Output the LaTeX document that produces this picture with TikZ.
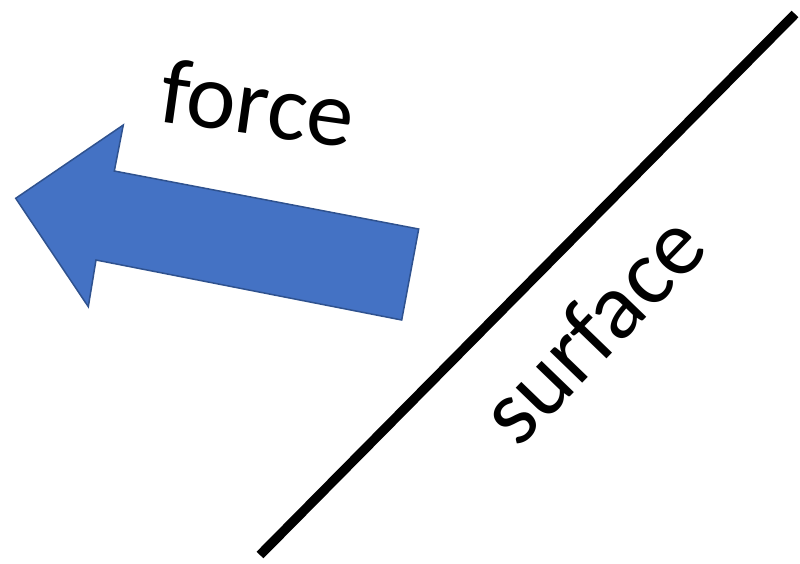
\documentclass[tikz,border=0pt]{standalone}
\usepackage{fontspec}
\setmainfont{Carlito}
\usepackage{tikz}
\usetikzlibrary{positioning}
\definecolor{forceblue}{HTML}{4472C4}
\definecolor{forceedge}{HTML}{2F528F}
\tikzset{
  bigarrow/.style={
    fill=forceblue,
    draw=forceedge,
    line width=1.5pt,
    line join=miter
  },
  wall/.style={
    draw=black,
    line width=9.5pt
  },
  biglabel/.style={
    inner sep=0pt,
    font=\fontsize{94}{112}\selectfont
  }
}
\begin{document}
\begin{tikzpicture}[x=1pt,y=-1pt]
  \useasboundingbox (0,0) rectangle (800,563);
  % block arrow
  \draw[bigarrow] (15.7,198.3) -- (123.3,125) -- (114.3,171) -- (418.7,229)
    -- (401.7,320) -- (96,260) -- (88.3,306.7) -- cycle;
  \node[biglabel, rotate=-8] (force) at (258,103) {force};

  % the surface
  \coordinate (surfbot) at (260,555);
  \coordinate (surftop) at (795,14);
  \draw[wall] (surfbot) -- (surftop);
  \node[biglabel, rotate=46] (surface) at (592,328) {surface};
\end{tikzpicture}
\end{document}
